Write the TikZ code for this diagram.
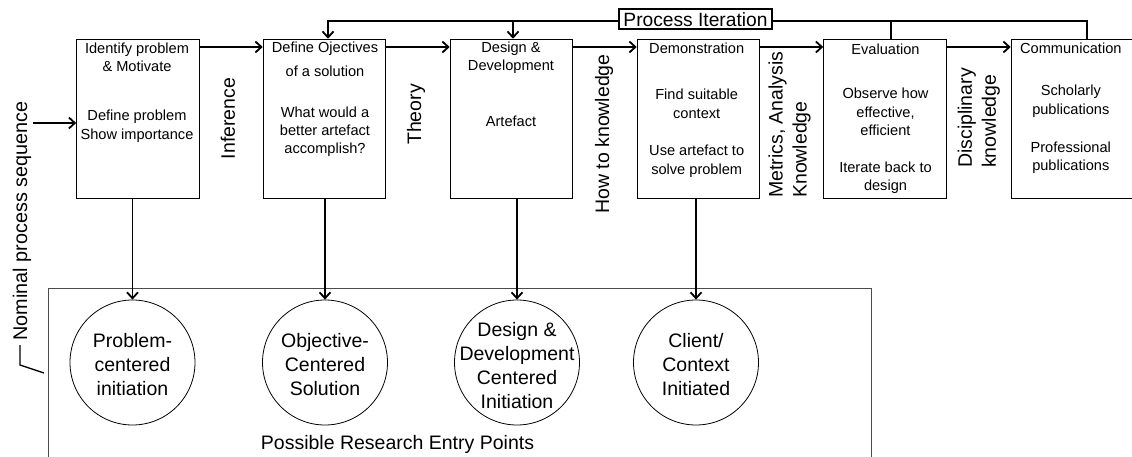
\documentclass[tikz,border=0pt]{standalone}
\usepackage{fontspec}
\setmainfont{Liberation Sans}
\usetikzlibrary{arrows.meta}
\tikzset{
  stagebox/.style={draw, line width=1.1pt, minimum width=122.5pt, minimum height=159pt, inner sep=0pt},
  boxtext/.style={anchor=north, align=center, inner sep=0pt, font=\fontsize{14.6}{18.3}\selectfont},
  flow/.style={line width=1.8pt, -{Straight Barb[length=6pt,width=11pt]}},
  link/.style={line width=1.8pt},
  sidelabel/.style={rotate=90, inner sep=0pt, font=\fontsize{19.5}{24}\selectfont},
  entry/.style={circle, draw, line width=0.8pt, minimum size=125pt, inner sep=0pt},
  entrytext/.style={align=center, inner sep=0pt, font=\fontsize{19.5}{24}\selectfont},
  iterbox/.style={draw, fill=white, line width=1.6pt, minimum width=153pt, minimum height=20pt, inner sep=0pt, font=\fontsize{19.2}{22}\selectfont},
  framebox/.style={draw=black!70, line width=1pt, minimum width=823.4pt, minimum height=200pt, inner sep=0pt}
}
\begin{document}
\begin{tikzpicture}[x=1pt,y=-1pt]
\useasboundingbox (0,0) rectangle (1132,457);

% the six process stages
\node[stagebox] (b1) at (138,118.8) {};
\node[stagebox] (b2) at (324.5,118.8) {};
\node[stagebox] (b3) at (511.5,118.8) {};
\node[stagebox] (b4) at (698.5,118.8) {};
\node[stagebox] (b5) at (885,118.8) {};
\node[stagebox] (b6) at (1072.5,118.8) {};

\node[boxtext] (t1) at (137,42.7) {Identify problem\\\& Motivate\\[30.7pt]Define problem\\Show importance};
\node[boxtext] (t2) at (325,41.6) {Define Ojectives\\[5.7pt]of a solution\\[22.7pt]What would a\\better artefact\\accomplish?};
\node[boxtext] (t3) at (511,41.6) {Design \&\\Development\\[37.4pt]Artefact};
\node[boxtext] (t4) at (696.7,43) {Demonstration\\[27.7pt]Find suitable\\context\\[19.4pt]Use artefact to\\solve problem};
\node[boxtext] (t5) at (885.5,44) {Evaluation\\[25.7pt]Observe how\\effective,\\efficient\\[18.7pt]Iterate back to\\design};
\node[boxtext] (t6) at (1070.8,43) {Communication\\[23.7pt]Scholarly\\publications\\[19.7pt]Professional\\publications};

% forward arrows between stages
\coordinate (row) at (0,47);
\draw[flow] (b1.east |- row) -- (b2.west |- row);
\draw[flow] (b2.east |- row) -- (b3.west |- row);
\draw[flow] (b3.east |- row) -- (b4.west |- row);
\draw[flow] (b4.east |- row) -- (b5.west |- row);
\draw[flow] (b5.east |- row) -- (b6.west |- row);

% labels between stages
\node[sidelabel] (l1) at (228,118.5) {Inference};
\node[sidelabel] (l2) at (416,114.5) {Theory};
\node[sidelabel] (l3) at (604,134) {How to knowledge};
\node[sidelabel, align=left, anchor=west] (l4) at (789.6,198) {Metrics, Analysis\\Knowledge};
\node[sidelabel, align=left, anchor=west] (l5) at (978.7,168) {Disciplinary\\knowledge};

% process iteration feedback line
\coordinate (it2) at (328,21);
\coordinate (it3) at (513,21);
\coordinate (it5) at (891,21);
\coordinate (it6) at (1087,21);
\draw[link] (it2) -- (it6) -- (it6 |- b6.north);
\draw[link] (it5) -- (it5 |- b5.north);
\draw[flow] ([yshift=0.9pt]it2) -- (it2 |- b2.north);
\draw[flow] (it3) -- (it3 |- b3.north);
\node[iterbox] (pit) at (695.5,19.3) {Process Iteration};

% nominal process sequence
\node[sidelabel, font=\fontsize{19.8}{24}\selectfont] (nps) at (22,221) {Nominal process sequence};
\coordinate (nstart) at (33,123);
\draw[flow] (nstart) -- (b1.west |- nstart);
\draw[line width=1.3pt] (20,345) -- (20,365) -- (44,373);

% entry points
\node[framebox] (frame) at (460,388.3) {};
\node[entry] (c1) at (132.5,362.5) {};
\node[entry] (c2) at (325,362.5) {};
\node[entry] (c3) at (517,362.5) {};
\node[entry] (c4) at (696,362.5) {};
\node[entrytext] (c1t) at (132.5,365) {Problem-\\centered\\initiation};
\node[entrytext] (c2t) at (325,365) {Objective-\\Centered\\Solution};
\node[entrytext] (c3t) at (517,366) {Design \&\\Development\\Centered\\Initiation};
\node[entrytext] (c4t) at (696,365) {Client/\\Context\\Initiated};

\draw[flow] (c1 |- b1.south) -- (c1.north);
\draw[flow] (c2 |- b2.south) -- (c2.north);
\draw[flow] (c3 |- b3.south) -- (c3.north);
\draw[flow] (c4 |- b4.south) -- (c4.north);

\node[font=\fontsize{19.5}{24}\selectfont, inner sep=0pt] (rep) at (397.5,444) {Possible Research Entry Points};
\end{tikzpicture}
\end{document}
